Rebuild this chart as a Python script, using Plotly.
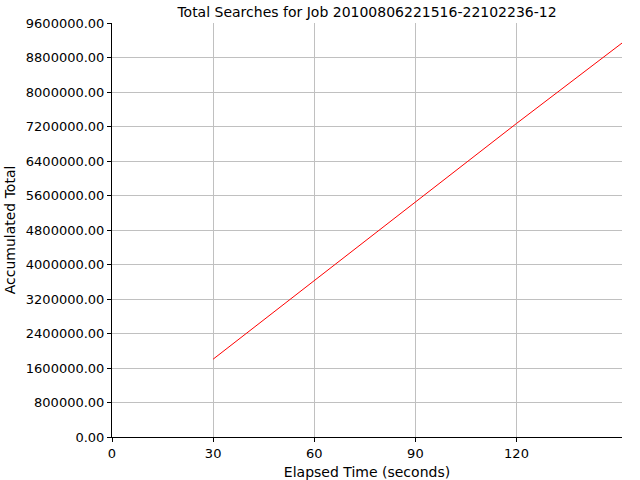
import plotly.graph_objects as go

elapsed = [30, 60, 90, 120, 151.3]
totals = [1804000, 3630000, 5440000, 7270000, 9135000]
x_ticks = [0, 30, 60, 90, 120]

title = "Total Searches for Job 20100806221516-22102236-12"

fig = go.Figure()
fig.add_trace(go.Scatter(x=elapsed, y=totals, mode="lines",
                         line=dict(color="#ff0000", width=1), showlegend=False))

font = dict(family="DejaVu Sans", size=13, color="#000000")
fig.update_layout(
    width=640, height=480,
    margin=dict(l=112, r=18, t=23, b=43),
    paper_bgcolor="#ffffff", plot_bgcolor="#ffffff",
    font=font,
    title=dict(text=title, x=(112 + 622) / 2 / 640, xanchor="center",
               y=1 - 12 / 480, yanchor="middle", font=dict(family="DejaVu Sans", size=14)),
    xaxis=dict(range=[0, 151.3], tickvals=x_ticks, ticks="outside", ticklen=4,
               tickcolor="#000000", showline=True, linecolor="#000000", linewidth=1,
               showgrid=True, gridcolor="#c0c0c0", gridwidth=1, zeroline=False,
               automargin=False, tickfont=dict(size=13),
               title=dict(text="Elapsed Time (seconds)", standoff=10, font=dict(size=14))),
    yaxis=dict(range=[0, 9600000], dtick=800000, tick0=0, tickformat=".2f",
               ticks="outside", ticklen=4, tickcolor="#000000",
               showline=True, linecolor="#000000", linewidth=1,
               showgrid=True, gridcolor="#c0c0c0", gridwidth=1, zeroline=False,
               automargin=False, tickfont=dict(size=13),
               title=dict(text="Accumulated Total", standoff=6, font=dict(size=14))),
)

fig.write_html("out.html", config={"displayModeBar": False},
               post_script="document.body.style.margin='0';document.body.style.overflow='hidden';")
